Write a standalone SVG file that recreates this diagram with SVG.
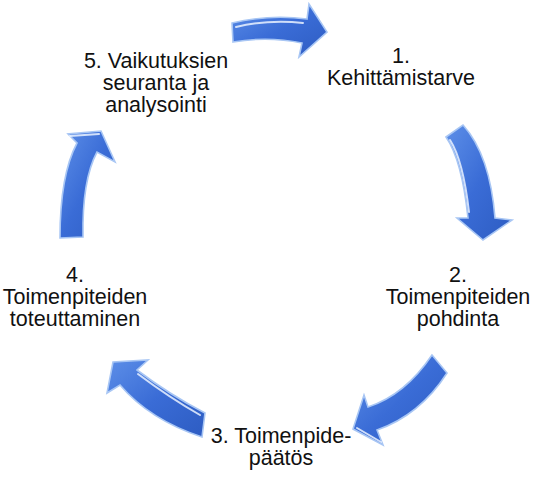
<svg xmlns="http://www.w3.org/2000/svg" width="558" height="478" viewBox="0 0 558 478">
<style>
.lbl{font-family:"Liberation Sans",Arial,sans-serif;font-size:21.5px;fill:#111;text-anchor:middle}
.arr{fill:url(#blue);stroke:#a8c6f4;stroke-width:1.6;stroke-linejoin:miter}
.hl{fill:none;stroke:#eaf2ff;stroke-width:2;stroke-linecap:round;opacity:0.85}
</style>
<defs>
<linearGradient id="blue" x1="0" y1="0" x2="1" y2="1">
<stop offset="0" stop-color="#5d8fe8"/>
<stop offset="0.5" stop-color="#3a6cd6"/>
<stop offset="1" stop-color="#2d5cc2"/>
</linearGradient>
</defs>
<rect width="558" height="478" fill="#ffffff"/>
<g id="connectors">
<g id="arrow-1-2">
<path class="arr" d="M446,137 L463,125 Q490,155 495,218 L512,220 L483,240 L457,218 L468,218 Q462,160 446,137 Z"/>
<path class="hl" d="M450,140 Q463,160 469,212"/>
</g>
<g id="arrow-2-3">
<path class="arr" d="M432,355 L447,373 Q420,415 377,430 L383,445 L353,429 L364,395 L368,407 Q405,395 432,355 Z"/>
<path class="hl" d="M357,428 L381,442"/>
</g>
<g id="arrow-3-4">
<path class="arr" d="M205,413 L202,437 Q150,420 120,385 L107,393 L113,362 L148,360 L137,370 Q170,395 205,413 Z"/>
<path class="hl" d="M138,374 Q170,398 200,415"/>
</g>
<g id="arrow-4-5">
<path class="arr" d="M60,238 L83,237 Q82,180 97,152 L115,162 L101,131 L68,134 L77,143 Q60,175 60,238 Z"/>
<path class="hl" d="M70,136 L99,134"/>
</g>
<g id="arrow-5-1">
<path class="arr" d="M232,23 Q270,14 307,19 L309,4 L327,32 L299,57 L302,43 Q268,36 233,42 Z"/>
<path class="hl" d="M236,27 Q270,19 303,23"/>
</g>
</g>
<g id="node-1">
<text class="lbl" x="401" y="63">1.</text>
<text class="lbl" x="401" y="85">Kehittämistarve</text>
</g>
<g id="node-2">
<text class="lbl" x="458" y="282">2.</text>
<text class="lbl" x="458" y="304">Toimenpiteiden</text>
<text class="lbl" x="458" y="326">pohdinta</text>
</g>
<g id="node-3">
<text class="lbl" x="281" y="443">3. Toimenpide-</text>
<text class="lbl" x="281" y="465">päätös</text>
</g>
<g id="node-4">
<text class="lbl" x="75" y="282">4.</text>
<text class="lbl" x="75" y="304">Toimenpiteiden</text>
<text class="lbl" x="75" y="326">toteuttaminen</text>
</g>
<g id="node-5">
<text class="lbl" x="156" y="68">5. Vaikutuksien</text>
<text class="lbl" x="156" y="90">seuranta ja</text>
<text class="lbl" x="156" y="112">analysointi</text>
</g>
</svg>
